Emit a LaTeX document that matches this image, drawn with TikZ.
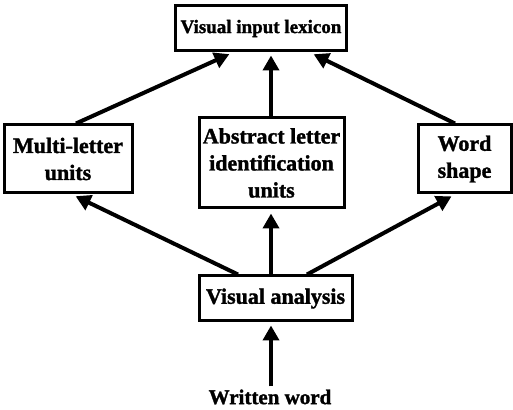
\documentclass[tikz,border=0pt]{standalone}
\usepackage{fontspec}
\setmainfont[BoldFeatures={FakeBold=1.5}]{Liberation Serif}
\usetikzlibrary{arrows.meta}
\tikzset{
  box/.style={draw, line width=3pt, align=center, inner sep=1pt, font=\bfseries\fontsize{22}{27}\selectfont},
  conn/.style={line width=4pt, -{Triangle[length=15pt,width=16pt]}},
}
\begin{document}
\begin{tikzpicture}[x=1pt,y=1pt]
\useasboundingbox (0,0) rectangle (513,409);
\node[box, minimum width=171pt, minimum height=45pt, font=\bfseries\fontsize{19}{22}\selectfont] (lex) at (261,380.5) {Visual input lexicon};
\node[box, minimum width=128pt, minimum height=68pt] (multi) at (68,250) {Multi-letter\\units};
\node[box, minimum width=145pt, minimum height=90pt] (abs) at (271.5,246) {Abstract letter\\identification\\units};
\node[box, minimum width=93pt, minimum height=68pt] (word) at (464.5,250) {Word\\shape};
\node[box, minimum width=153pt, minimum height=45pt] (vis) at (275.5,110.5) {Visual analysis};
\node[font=\bfseries\fontsize{21}{24}\selectfont, inner sep=0pt] (written) at (270,12) {Written word};
\draw[conn, shorten >=4pt] ([xshift=8pt]multi.north) -- ([xshift=-28pt]lex.south);
\draw[conn, shorten >=3pt] ([xshift=-0.5pt]abs.north) -- ([xshift=10pt]lex.south);
\draw[conn, shorten >=4pt] ([xshift=-9.5pt]word.north) -- ([xshift=49pt]lex.south);
\draw[conn, shorten >=4pt] ([xshift=-37.5pt]vis.north) -- ([xshift=4pt]multi.south);
\draw[conn, shorten >=4pt] ([xshift=-4.5pt]vis.north) -- ([xshift=-0.5pt]abs.south);
\draw[conn, shorten >=4pt] ([xshift=31.5pt]vis.north) -- ([xshift=-9.5pt]word.south);
\draw[conn, shorten >=3pt, shorten <=3pt] ([xshift=1pt]written.north) -- ([xshift=-4.5pt]vis.south);
\end{tikzpicture}
\end{document}
